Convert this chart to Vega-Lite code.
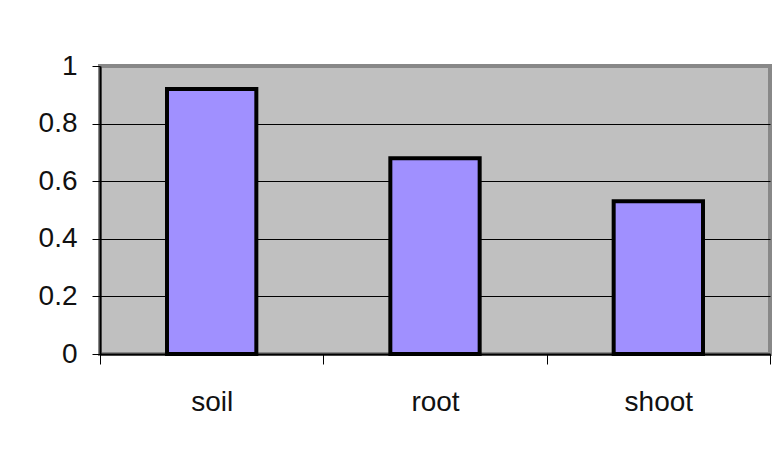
{
  "$schema": "https://vega.github.io/schema/vega-lite/v6.json",
  "width": 670,
  "height": 288,
  "autosize": {"type": "none"},
  "padding": {"left": 100, "top": 66, "right": 5, "bottom": 102},
  "background": "white",
  "data": {"values": [
    {"part": "soil", "value": 0.92},
    {"part": "root", "value": 0.68},
    {"part": "shoot", "value": 0.53}
  ]},
  "mark": {"type": "bar", "fill": "#a090ff", "stroke": "black", "strokeWidth": 4, "strokeJoin": "miter", "width": {"band": 0.4}},
  "encoding": {
    "x": {
      "field": "part", "type": "nominal", "sort": null,
      "scale": {"paddingInner": 0, "paddingOuter": 0},
      "axis": {"title": null, "labelAngle": 0, "tickBand": "extent", "tickSize": 10, "tickColor": "black", "tickWidth": 1,
        "domainColor": "black", "domainWidth": 2, "labelFontSize": 28, "labelFont": "Liberation Sans",
        "labelColor": "#111111", "labelPadding": 24}
    },
    "y": {
      "field": "value", "type": "quantitative",
      "scale": {"domain": [0, 1], "nice": false},
      "axis": {"title": null, "values": [0, 0.2, 0.4, 0.6, 0.8, 1], "format": "~g",
        "grid": true, "gridColor": "black", "gridWidth": 1,
        "gridOpacity": {"condition": {"test": "datum.value == 1", "value": 0}, "value": 1},
        "tickSize": 8, "tickColor": "black", "tickWidth": 1,
        "domainColor": "black", "domainWidth": 2,
        "labelFontSize": 28, "labelFont": "Liberation Sans", "labelColor": "#111111", "labelPadding": 15}
    }
  },
  "config": {"view": {"fill": "#c0c0c0", "stroke": "#888888", "strokeWidth": 4}}
}
